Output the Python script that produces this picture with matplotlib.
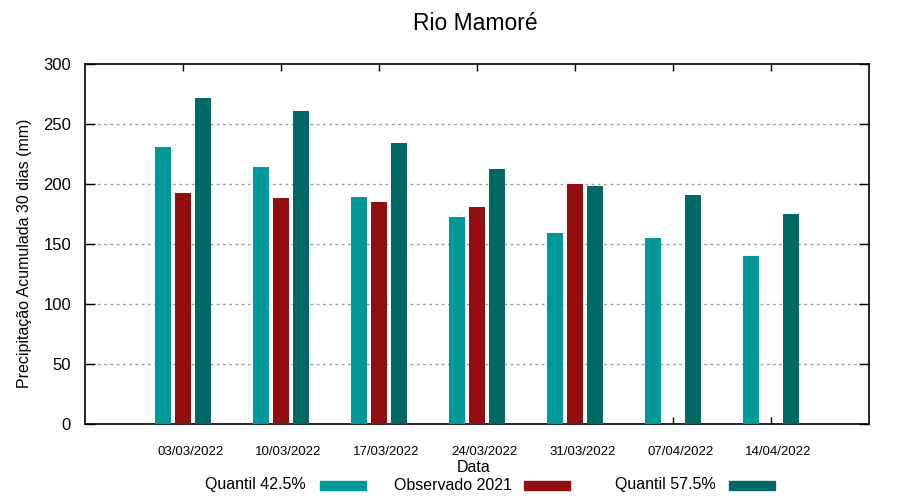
import matplotlib
matplotlib.use("Agg")
import matplotlib.pyplot as plt
from matplotlib.patches import Rectangle
import numpy as np

plt.rcParams['font.family'] = ['Liberation Sans', 'DejaVu Sans']

# ---- data ----
datas = ["03/03/2022", "10/03/2022", "17/03/2022", "24/03/2022",
         "31/03/2022", "07/04/2022", "14/04/2022"]
quantil_425 = [231, 214, 189, 172, 159, 155, 140]
observado_2021 = [192, 188, 185, 181, 200, np.nan, np.nan]
quantil_575 = [272, 261, 234, 212, 198, 191, 175]
series_labels = ["Quantil 42.5%", "Observado 2021", "Quantil 57.5%"]
colors = ["#009999", "#930E0E", "#006966"]

fig = plt.figure(figsize=(9, 5), dpi=100)
ax = fig.add_axes([85/900, 1-423.5/500, (869-85)/900, (423.5-64)/500])

x = np.arange(1, len(datas) + 1)
width = 0.165
offsets = [-0.2, 0.0, 0.2]
for vals, off, c in zip([quantil_425, observado_2021, quantil_575], offsets, colors):
    ax.bar(x + off, vals, width=width, color=c, zorder=3)

ax.set_xlim(0, 8)
ax.set_ylim(0, 300)
ax.set_yticks(np.arange(0, 301, 50))
# major ticks at group centres (marks only), labels on minor ticks shifted slightly right
ax.set_xticks(x)
ax.set_xticklabels([])
ax.set_xticks(x + 0.075, minor=True)
ax.set_xticklabels(datas, minor=True, fontsize=9.5)
ax.tick_params(axis='x', which='major', direction='in', length=5, top=True, bottom=True, width=1)
ax.tick_params(axis='x', which='minor', length=0, pad=16, top=False, bottom=True)
ax.tick_params(axis='y', direction='in', length=7, left=True, right=True, labelsize=12, pad=10, width=1)

for yv in range(50, 300, 50):
    ax.axhline(yv, color='#a0a0a0', linestyle=(0, (2, 2.5)), linewidth=1, zorder=1)

for s in ax.spines.values():
    s.set_linewidth(1.2)

ax.set_ylabel("Precipitação Acumulada 30 dias (mm)", fontsize=11.5)
ax.yaxis.set_label_coords((32-85)/784, 1-(253-64)/359.5)
fig.text(474/900, 1-468/500, "Data", ha='center', va='center', fontsize=11.5)
fig.text(475/900, 1-24/500, "Rio Mamoré", ha='center', va='center', fontsize=16.5)

# legend drawn as text + swatches in a row
text_right = [306, 512, 716]
sw_left = [320, 524, 729]
for lab, tr, sl, c in zip(series_labels, text_right, sw_left, colors):
    fig.text(tr/900, 1-485/500, lab, ha='right', va='center', fontsize=11.5)
    fig.add_artist(Rectangle((sl/900, 1-490/500), 46/900, 9/500,
                             transform=fig.transFigure, color=c))

fig.savefig("out.png", dpi=100)
